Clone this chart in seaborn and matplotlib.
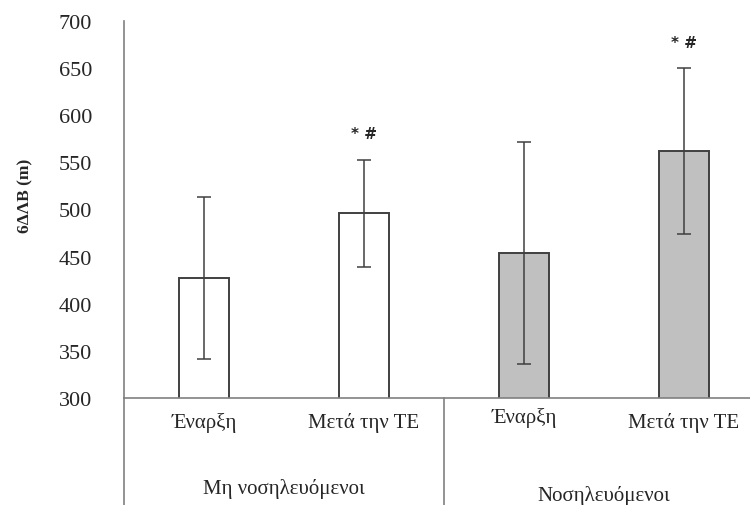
import matplotlib.pyplot as plt
import numpy as np
import pandas as pd
import seaborn as sns

groups = ["Μη νοσηλευόμενοι", "Μη νοσηλευόμενοι", "Νοσηλευόμενοι", "Νοσηλευόμενοι"]
phases = ["Έναρξη", "Μετά την ΤΕ", "Έναρξη", "Μετά την ΤΕ"]
means = [427, 496, 454, 562]
sds = [86, 57, 118, 88]
marks = ["", "* #", "", "* #"]
bar_colors = ["#ffffff", "#ffffff", "#c0c0c0", "#c0c0c0"]
group_names = ["Μη νοσηλευόμενοι", "Νοσηλευόμενοι"]

df = pd.DataFrame({"group": groups, "phase": phases, "mean": means, "sd": sds})
df["key"] = df["group"] + " | " + df["phase"]

sns.set_style("white")
plt.rcParams["font.family"] = ["Liberation Serif", "DejaVu Serif"]

fig = plt.figure(figsize=(7.5, 5.06), dpi=100)
ax = fig.add_axes([124 / 750, 107 / 506, 640 / 750, 377 / 506])

sns.barplot(data=df, x="key", y="mean", hue="key", palette=bar_colors,
            legend=False, width=0.31, edgecolor="#404040", linewidth=1.4, ax=ax)

x = np.arange(len(df))
ax.errorbar(x, df["mean"], yerr=df["sd"], fmt="none", ecolor="#404040",
            elinewidth=1.1, capsize=5, capthick=1.1, zorder=4)

for i, m in enumerate(marks):
    if m:
        ax.annotate(m, xy=(i, means[i] + sds[i]), xytext=(0, 13),
                    textcoords="offset points", ha="center", va="bottom",
                    fontsize=11, fontweight="bold", family="DejaVu Sans")

ax.set_ylim(300, 700)
ax.set_xlim(-0.5, 3.5)
ax.set_yticks(np.arange(300, 701, 50))
ax.tick_params(axis="y", length=0, pad=23, labelsize=16)
ax.set_xticks([])
ax.set_xlabel("")
ax.set_ylabel("6ΔΛΒ (m)", fontsize=12.5, fontweight="bold")
ax.yaxis.set_label_coords(-0.142, 0.54)

sns.despine(ax=ax)
for s in ["left", "bottom"]:
    ax.spines[s].set_color("#808080")
    ax.spines[s].set_linewidth(1.2)

# category labels under bars
phase_y = [-0.077, -0.077, -0.064, -0.077]
for i, p in enumerate(phases):
    ax.text(i, phase_y[i], p, transform=ax.get_xaxis_transform(),
            ha="center", va="baseline", fontsize=15)

# group labels and separators
group_y = [-0.252, -0.27]
for g, name in enumerate(group_names):
    ax.text(2 * g + 0.5, group_y[g], name, transform=ax.get_xaxis_transform(),
            ha="center", va="baseline", fontsize=15)
for sx in [-0.5, 1.5, 3.5]:
    ax.plot([sx, sx], [0, -0.4], transform=ax.get_xaxis_transform(),
            color="#808080", lw=1.2, clip_on=False)

plt.savefig("out.png", dpi=100)
